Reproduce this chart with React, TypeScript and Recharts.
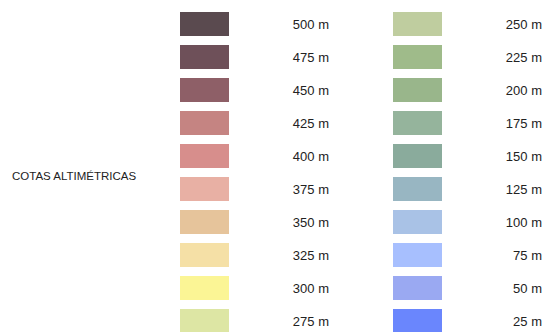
import { ScatterChart, Scatter, XAxis, YAxis } from 'recharts'

// elevation bands, two columns of ten
const leftLevels = [500, 475, 450, 425, 400, 375, 350, 325, 300, 275]
const rightLevels = [250, 225, 200, 175, 150, 125, 100, 75, 50, 25]

const leftColors = ['#5a4a4f', '#6e5059', '#8e5f67', '#c58482', '#d78e8c', '#e8b0a4', '#e6c49b', '#f5e0a6', '#fbf595', '#dde6a4']
const rightColors = ['#bfcd9f', '#9fbb8a', '#99b68b', '#95b49c', '#8aab9c', '#98b6c2', '#a9c2e6', '#a7bffe', '#9aa9f2', '#6a86fd']

const title = 'COTAS ALTIMÉTRICAS'

const points = [
  ...leftLevels.map((level, i) => ({ col: 0, row: i, level, color: leftColors[i] })),
  ...rightLevels.map((level, i) => ({ col: 1, row: i, level, color: rightColors[i] })),
]

const FONT = '"Liberation Sans", Arial, Helvetica, sans-serif'

function Swatch(props: any) {
  const { cx, cy, payload } = props
  return (
    <g>
      <rect x={cx - 24.5} y={cy - 12} width={49} height={24} fill={payload.color} />
      <text x={cx + 124.5} y={cy} dy={5} textAnchor="end" fontSize={13} fontFamily={FONT} fill="#222">
        {payload.level} m
      </text>
    </g>
  )
}

export default function App() {
  return (
    <div style={{ position: 'absolute', left: 0, top: 0, width: 544, height: 332, background: '#fff' }}>
      <div
        style={{
          position: 'absolute',
          left: 12,
          top: 170,
          fontSize: 11.5,
          fontFamily: FONT,
          color: '#222',
          whiteSpace: 'nowrap',
        }}
      >
        {title}
      </div>
      <ScatterChart width={544} height={332} margin={{ top: 24, right: 126.5, bottom: 11, left: 204.5 }}>
        <XAxis type="number" dataKey="col" domain={[0, 1]} hide />
        <YAxis type="number" dataKey="row" domain={[0, 9]} reversed hide />
        <Scatter data={points} shape={Swatch} isAnimationActive={false} />
      </ScatterChart>
    </div>
  )
}
